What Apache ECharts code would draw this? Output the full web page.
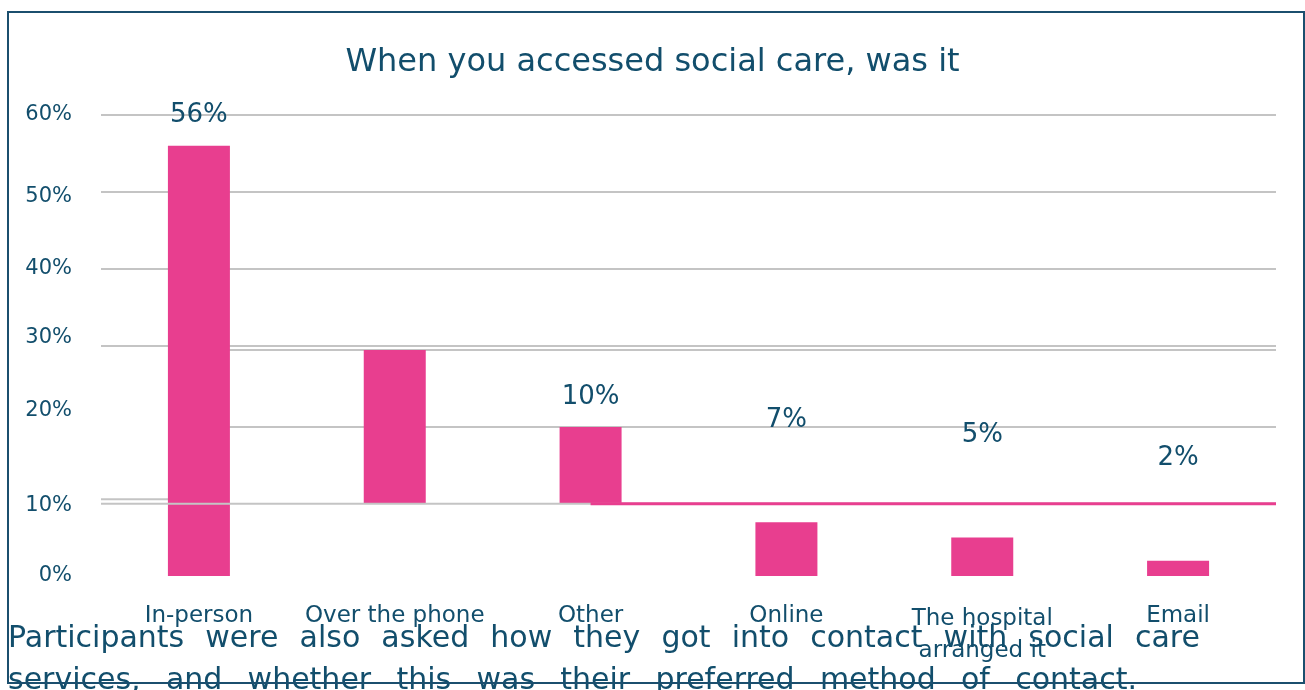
<!DOCTYPE html>
<html>
<head>
<meta charset="utf-8">
<script src="https://cdn.jsdelivr.net/npm/echarts@6/dist/echarts.min.js"></script>
<style>
  html, body { margin: 0; padding: 0; background: #fff; }
  #chart { width: 1305px; height: 690px; }
</style>
</head>
<body>
<div id="chart"></div>
<script>
// ---- data ----
const categories = ['In-person', 'Over the phone', 'Other', 'Online', 'The hospital\narranged it', 'Email'];
const shares = [56, 20, 10, 7, 5, 2];            // % of participants
const lift = [0, 9.4, 9.4, 0, 0, 0];             // raised baseline under some bars (%)
const labelLift = [0, 9.4, 9.4, 9.4, 9.4, 9.4];  // value labels sit this far above their share
const labelShown = [true, false, true, true, true, true];
const yTicks = [0, 10, 20, 30, 40, 50, 60];
const titleText = 'When you accessed social care, was it';
const paragraph = [
  'Participants were also asked how they got into contact with social care',
  'services, and whether this was their preferred method of contact.'
];

// ---- styles ----
const FONT = "'DejaVu Sans', sans-serif";
const TEXT = '#124e6c';
const PINK = '#e83e8f';
const GRID = '#c4c4c4';
const RAISE = 9.4;

// vertical nudges for some y labels (px, + = down)
const yNudge = { 10: 6, 20: -12, 30: -8, 50: 5 };
const yRich = {};
yTicks.forEach(v => {
  const n = yNudge[v] || 0;
  yRich['t' + v] = {
    color: TEXT, fontSize: 21, fontFamily: FONT,
    padding: n >= 0 ? [2 * n, 0, 0, 0] : [0, 0, -2 * n, 0]
  };
});

const chart = echarts.init(document.getElementById('chart'), null, { renderer: 'canvas' });

const hLine = (name, pts, color, width, z) => ({
  name, type: 'line', xAxisIndex: 1, yAxisIndex: 0, data: pts,
  symbol: 'none', silent: true, z, animation: false,
  lineStyle: { color, width }
});

// paragraph laid out as justified words
const PARA_SIZE = 30;
const measure = document.createElement('canvas').getContext('2d');
measure.font = PARA_SIZE + 'px ' + FONT;
function justify(line, x0, x1, cy) {
  const words = line.split(' ');
  const widths = words.map(w => measure.measureText(w).width);
  const total = widths.reduce((a, b) => a + b, 0);
  const gap = (x1 - x0 - total) / (words.length - 1);
  let x = x0;
  return words.map((w, i) => {
    const el = {
      type: 'text', x, y: cy, z: 20, silent: true,
      style: { text: w, fill: TEXT, fontSize: PARA_SIZE, fontFamily: FONT, verticalAlign: 'middle', align: 'left' }
    };
    x += widths[i] + gap;
    return el;
  });
}

const option = {
  animation: false,
  backgroundColor: '#ffffff',
  title: {
    text: titleText, left: 'center', top: 42,
    textStyle: { color: TEXT, fontSize: 32, fontWeight: 'normal', fontFamily: FONT }
  },
  grid: { left: 101, right: 29, top: 115, bottom: 114 },
  xAxis: [
    {
      type: 'category', data: categories,
      axisLine: { show: false }, axisTick: { show: false },
      axisLabel: {
        color: TEXT, fontSize: 23, fontFamily: FONT, margin: 27, lineHeight: 26, interval: 0,
        formatter: v => v.indexOf('\n') >= 0 ? '{h|' + v.replace('\n', '}\n{h|') + '}' : v,
        rich: { h: { color: TEXT, fontSize: 23, fontFamily: FONT, lineHeight: 32 } }
      }
    },
    { type: 'value', min: 0, max: 6, show: false }
  ],
  yAxis: {
    type: 'value', min: 0, max: 60, interval: 10,
    axisLine: { show: false }, axisTick: { show: false },
    axisLabel: {
      margin: 29, formatter: v => '{t' + v + '|' + v + '%}', rich: yRich
    },
    splitLine: {
      lineStyle: { color: ['transparent', 'transparent', 'transparent', GRID, GRID, GRID, GRID], width: 2 }
    }
  },
  series: [
    hLine('grid10left', [[0, 10], [0.5, 10]], GRID, 2, 1),
    hLine('gridRaised1', [[0.5, RAISE + 10], [6, RAISE + 10]], GRID, 2, 1),
    hLine('gridRaised2', [[0.5, RAISE + 20], [6, RAISE + 20]], GRID, 2, 1),
    {
      name: 'base', type: 'bar', stack: 'total', data: lift, barWidth: 62,
      itemStyle: { color: 'transparent' }, silent: true, z: 2
    },
    {
      name: 'share', type: 'bar', stack: 'total', data: shares, barWidth: 62,
      itemStyle: { color: PINK }, z: 3
    },
    hLine('gridBase', [[0, RAISE], [6, RAISE]], GRID, 2, 4),
    hLine('pinkBase', [[2.5, RAISE], [6, RAISE]], PINK, 3, 5),
    {
      name: 'labels', type: 'scatter', symbolSize: 0, silent: true, z: 6,
      itemStyle: { color: 'rgba(0,0,0,0)', opacity: 1 },
      data: shares.map((v, i) => ({
        value: [i, v + labelLift[i]],
        label: {
          show: labelShown[i], position: 'inside', offset: [0, -30],
          formatter: v + '%', color: TEXT, fontSize: 26, fontFamily: FONT, opacity: 1
        }
      }))
    }
  ],
  graphic: [
    ...justify(paragraph[0], 8, 1200, 639),
    ...justify(paragraph[1], 8, 1137, 681),
    {
      type: 'rect', z: 30, silent: true,
      shape: { x: 8, y: 12, width: 1296, height: 671 },
      style: { fill: null, stroke: '#1b4f6e', lineWidth: 2 }
    }
  ]
};

chart.setOption(option);
</script>
</body>
</html>
